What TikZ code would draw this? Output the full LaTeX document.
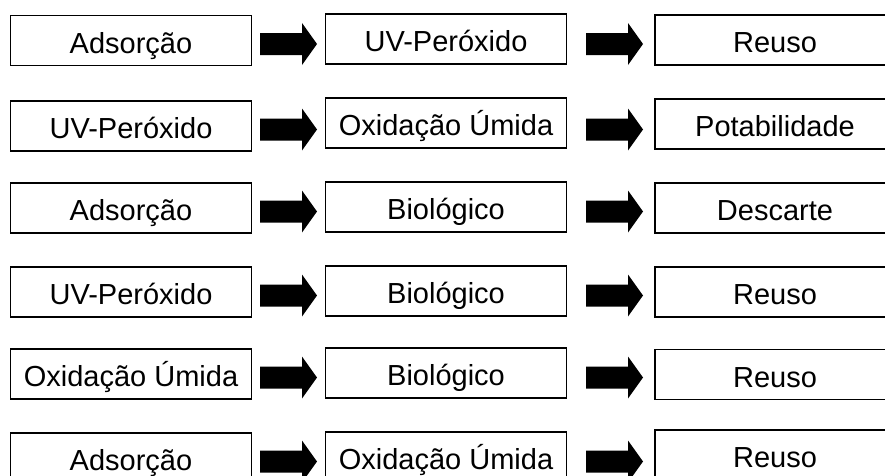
\documentclass[tikz,border=0pt]{standalone}
\usepackage{fontspec}
\setmainfont{Liberation Sans}
\begin{document}
\begin{tikzpicture}[x=1pt,y=-1pt,
  stagebox/.style={draw=black, line width=1.7pt, minimum width=241pt, minimum height=50pt,
    inner sep=0pt, text height=25pt, text depth=0pt,
    font=\fontsize{29}{34}\selectfont, fill=white},
  blockarrow/.style={fill=black}]
\useasboundingbox (0,0) rectangle (885,475);
\clip (0,0) rectangle (885,475);
\foreach \r/\ya/\yb/\yc/\ta/\tb/\tc in {
  1/40.5/39/40/Adsorção/UV-Peróxido/Reuso,
  2/126/123/124/UV-Peróxido/Oxidação Úmida/Potabilidade,
  3/208/207/208/Adsorção/Biológico/Descarte,
  4/292/291/292/UV-Peróxido/Biológico/Reuso,
  5/374/373/374.5/Oxidação Úmida/Biológico/Reuso,
  6/458/457/455/Adsorção/Oxidação Úmida/Reuso}{
  \node[stagebox] (a\r) at (131,\ya) {\ta};
  \node[stagebox] (b\r) at (446,\yb) {\tb};
  \node[stagebox, minimum width=240pt] (c\r) at (775,\yc) {\tc};
  \coordinate (p\r) at (288.5,\ya+3.5);
  \coordinate (q\r) at (614.5,\ya+3.5);
  \foreach \q in {p\r,q\r}{
    \fill[blockarrow, shift={(\q)}] (-28.5,-11) -- (13.5,-11) -- (13.5,-21)
      -- (28.5,0) -- (13.5,21) -- (13.5,11) -- (-28.5,11) -- cycle;
  }
}
\end{tikzpicture}
\end{document}
